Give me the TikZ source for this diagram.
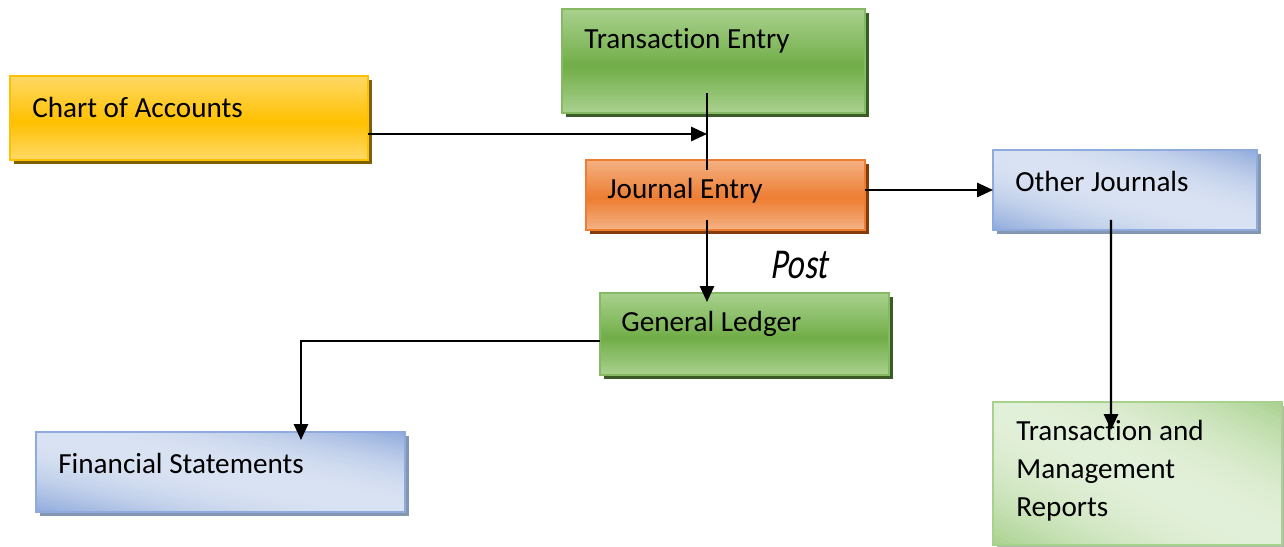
\documentclass[tikz,border=0pt]{standalone}
\usepackage{fontspec}
\setmainfont{Carlito}[RawFeature={-liga;-clig;-dlig;-calt}]
\newfontfamily\postfont{Carlito}[FakeSlant=0.22, RawFeature={-liga;-clig;-dlig;-calt}]
\usetikzlibrary{arrows.meta,calc,shadows}

\definecolor{goldT}{HTML}{FFD966}
\definecolor{goldM}{HTML}{FFC000}
\definecolor{goldS}{HTML}{7F6000}
\definecolor{grnT}{HTML}{A9D18E}
\definecolor{grnM}{HTML}{70AD47}
\definecolor{grnS}{HTML}{3B5A26}
\definecolor{orgT}{HTML}{F4B183}
\definecolor{orgM}{HTML}{ED7D31}
\definecolor{orgS}{HTML}{843C0C}
\definecolor{bluD}{HTML}{8FAADC}
\definecolor{bluL}{HTML}{DAE3F3}
\definecolor{bluS}{HTML}{8497B0}
\definecolor{lgrD}{HTML}{A9D18E}
\definecolor{lgrL}{HTML}{E2F0D9}
\definecolor{lgrS}{HTML}{B4B4B4}

\tikzset{
  box/.style={rectangle, inner sep=0pt, outer sep=0pt, line width=1.1pt},
  shadowed/.style={general shadow={fill=#1, draw=none, shadow xshift=0.8mm, shadow yshift=-0.8mm}},
  goldbox/.style={box, shadowed=goldS, fill=goldM},
  greenbox/.style={box, shadowed=grnS, fill=grnM},
  orangebox/.style={box, shadowed=orgS, fill=orgM},
  bluebox/.style={box, shadowed=bluS, fill=bluL},
  lightbox/.style={box, shadowed=lgrS, fill=lgrL},
  label text/.style={anchor=west, inner sep=0pt, font=\fontsize{16.6}{21.6}\selectfont, text=black},
  line/.style={draw=black, line width=1.3pt},
  arrow/.style={line, -{Triangle[length=9pt,width=8pt]}},
}

% vertical band fill: #2 at top and bottom edges, #3 in a band just below the middle; #4 border
\newcommand\bandfill[4]{%
  \begin{scope}
    \clip (#1.south west) rectangle (#1.north east);
    \foreach \i in {0,...,39}{
      \pgfmathsetmacro\ta{\i/40}
      \pgfmathsetmacro\tb{(\i+1.5)/40}
      \pgfmathtruncatemacro\p{100*min((\i+0.5)/40/0.55,(1-(\i+0.5)/40)/0.45)}
      \fill[#3!\p!#2] ($(#1.north west)!\ta!(#1.south west)$) rectangle ($(#1.north east)!\tb!(#1.south east)$);
    }
  \end{scope}
  \draw[line width=1.1pt,#4] (#1.south west) rectangle (#1.north east);}

% diagonal fill: #2 at the top-right and bottom-left corners, #3 along the other diagonal; #4 border
\newcommand\diagfill[4]{%
  \begin{scope}
    \clip (#1.south west) rectangle (#1.north east);
    \foreach \i in {0,...,49}{
      \pgfmathsetmacro\ta{\i/50}
      \pgfmathsetmacro\tb{(\i+1.5)/50}
      \pgfmathtruncatemacro\p{100*(1-(2*(\i+0.5)/50-1)^2)}
      \fill[#3!\p!#2]
        ($(#1.north east)!\ta!(#1.south west) + (#1.south east) - (#1.north west)$) --
        ($(#1.north east)!\ta!(#1.south west) - (#1.south east) + (#1.north west)$) --
        ($(#1.north east)!\tb!(#1.south west) - (#1.south east) + (#1.north west)$) --
        ($(#1.north east)!\tb!(#1.south west) + (#1.south east) - (#1.north west)$) -- cycle;
    }
  \end{scope}
  \draw[line width=1.1pt,#4] (#1.south west) rectangle (#1.north east);}

\begin{document}
\begin{tikzpicture}[x=0.02cm, y=-0.02cm]
\useasboundingbox (0,0) rectangle (1284,547);

% boxes
\node[goldbox,   minimum width=7.16cm, minimum height=1.68cm] (coa) at (189,118) {};
\node[greenbox,  minimum width=6.06cm, minimum height=2.08cm] (te)  at (713.5,61) {};
\node[orangebox, minimum width=5.58cm, minimum height=1.40cm] (je)  at (725.5,195) {};
\node[greenbox,  minimum width=5.78cm, minimum height=1.64cm] (gl)  at (744.5,334) {};
\node[bluebox,   minimum width=5.28cm, minimum height=1.60cm] (oj)  at (1125,190) {};
\node[bluebox,   minimum width=7.38cm, minimum height=1.60cm] (fs)  at (220.5,472) {};
\node[lightbox,  minimum width=5.78cm, minimum height=2.86cm] (rep) at (1137.5,473.5) {};

\bandfill{coa}{goldT}{goldM}{goldM}
\bandfill{te}{grnT}{grnM}{grnM!85!white}
\bandfill{je}{orgT}{orgM}{orgM}
\bandfill{gl}{grnT}{grnM}{grnM!85!white}
\diagfill{oj}{bluD}{bluL}{bluD}
\diagfill{fs}{bluD}{bluL}{bluD}
\diagfill{rep}{lgrD}{lgrL}{lgrD}

% box texts
\node[label text] (coa-t) at (32,107)  {Chart of Accounts};
\node[label text] (te-t)  at (584,41)  {Transaction Entry};
\node[label text] (je-t)  at (607,191) {Journal Entry};
\node[label text] (gl-t)  at (621,324) {General Ledger};
\node[label text] (oj-t)  at (1015,181) {Other Journals};
\node[label text] (fs-t)  at (58,463)  {Financial Statements};
\node[label text, align=left] (rep-t) at (1016,471) {Transaction and\\Management\\Reports};

% junction on the entry line
\coordinate (jn) at (707,134);

% connectors
\draw[arrow] (coa.east |- jn) -- (jn);
\draw[line] ([yshift=0.4cm]te.south -| jn) -- ([yshift=-0.2cm]je.north -| jn);
\draw[arrow] ([yshift=0.2cm]je.south -| jn) -- ([yshift=-0.18cm]gl.north -| jn);
\draw[arrow] (je.east |- oj.west) -- (oj.west);
\draw[arrow] ([xshift=-0.28cm,yshift=0.2cm]oj.south) -- ([xshift=-0.53cm,yshift=-0.56cm]rep.north);
\draw[arrow] ([yshift=-0.14cm]gl.west) -| ([xshift=1.61cm,yshift=-0.16cm]fs.north);

\node[inner sep=0pt, text=black] (post) at (799,265)
  {\scalebox{1}[1.3]{\fontsize{18.6}{20}\selectfont\postfont Post}};
\end{tikzpicture}
\end{document}
